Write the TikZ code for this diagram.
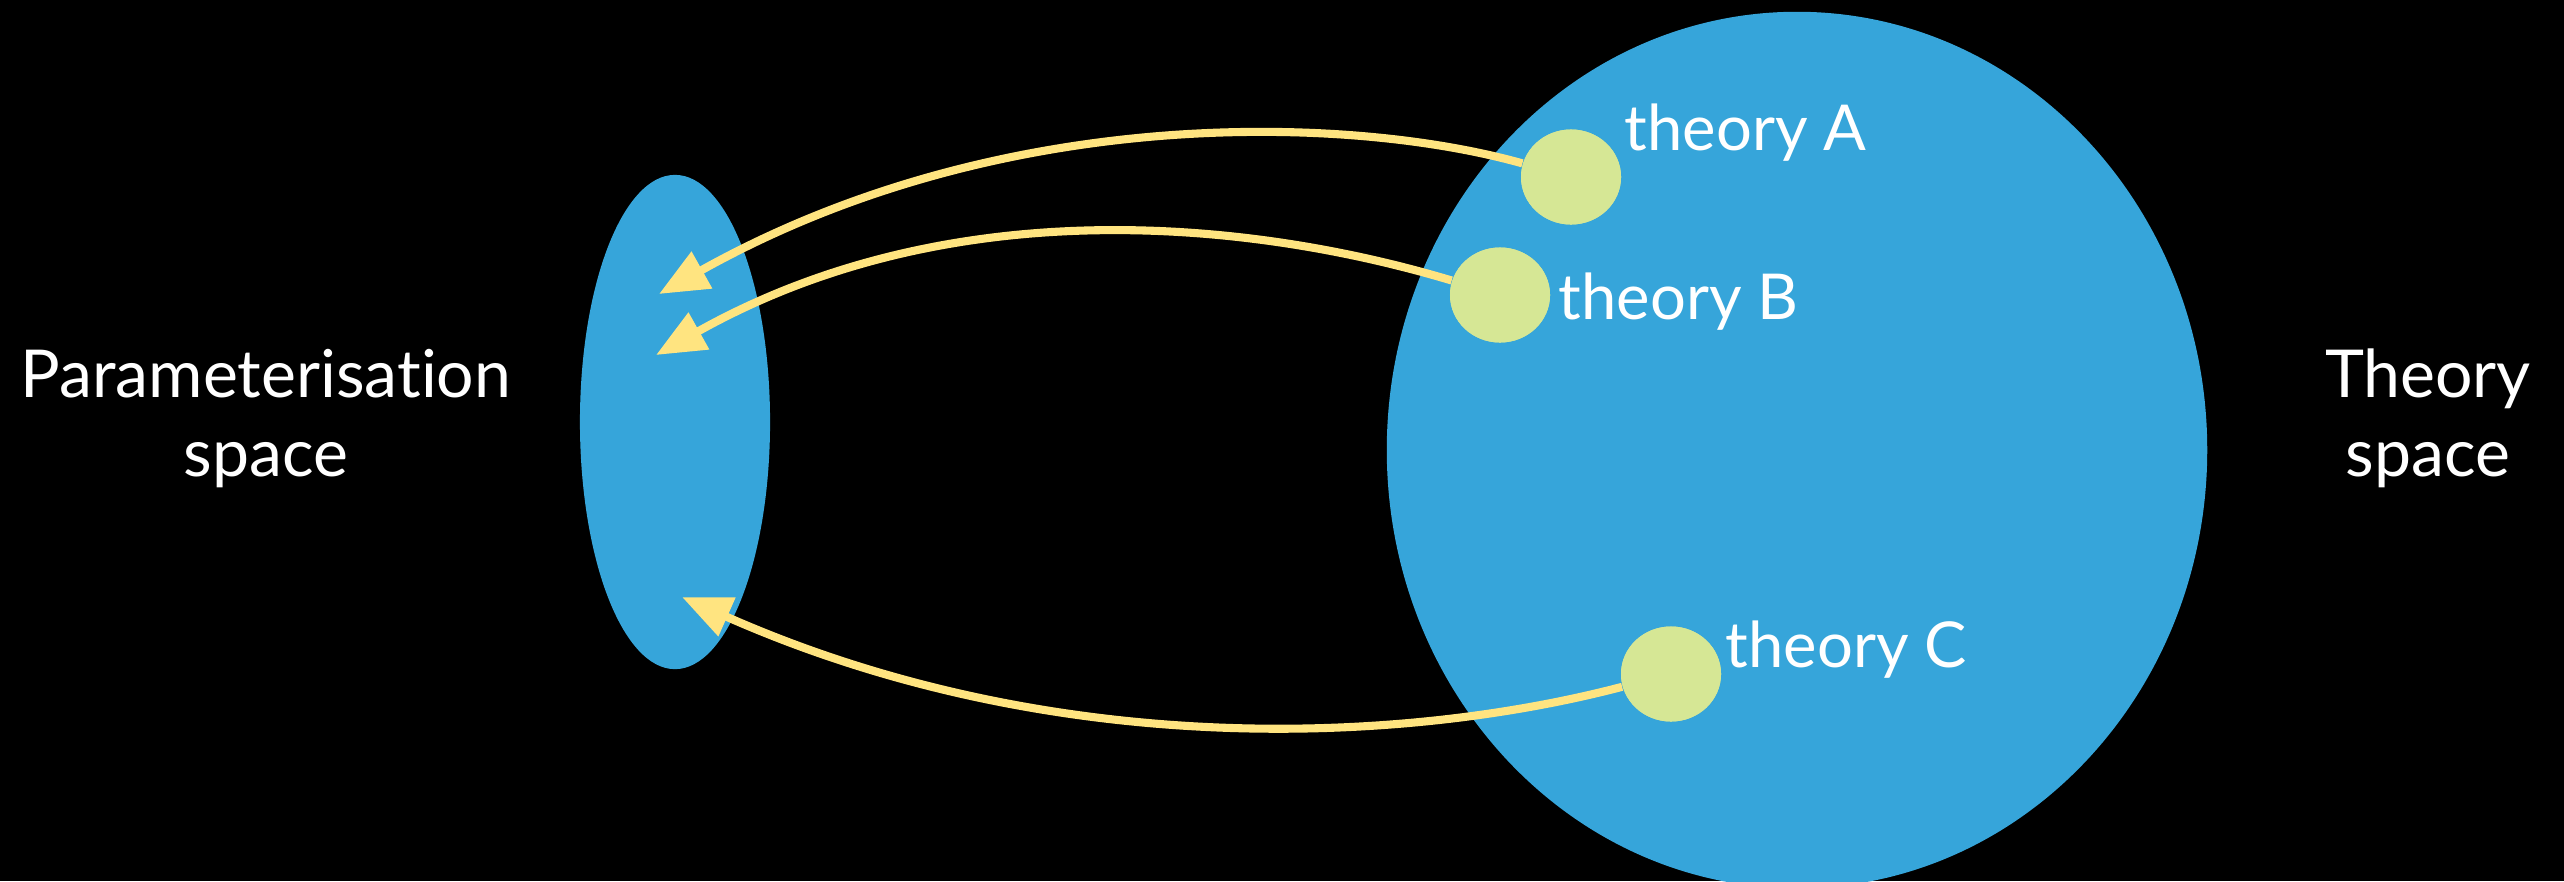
\documentclass[tikz,border=0pt]{standalone}
\usepackage{fontspec}
\setmainfont{Lato}[Ligatures={NoCommon}]
\usetikzlibrary{arrows.meta,shapes.geometric}
\definecolor{bg}{HTML}{000000}
\definecolor{spaceblue}{HTML}{36A5DA}
\definecolor{theorygreen}{HTML}{D6E795}
\definecolor{arrowyellow}{HTML}{FFE480}
\tikzset{
  spacefill/.style={draw=none, fill=spaceblue, ellipse, inner sep=0pt},
  theorydot/.style={draw=none, fill=theorygreen, ellipse, minimum width=1.0cm, minimum height=0.95cm, inner sep=0pt},
  maplink/.style={draw=arrowyellow, line width=2.3pt, -{Triangle[length=14pt,width=11.5pt]}},
  lbl/.style={text=white, font=\fontsize{18.8}{26}\selectfont, inner sep=0pt},
  smalllbl/.style={lbl, font=\fontsize{18}{26}\selectfont},
}
\begin{document}
\begin{tikzpicture}[x=0.01cm, y=-0.01cm]
\fill[bg] (0,0) rectangle (2564,881);
\useasboundingbox (0,0) rectangle (2564,881);
% spaces
\node[spacefill, minimum width=8.2cm, minimum height=8.76cm] (theoryspace) at (1797,450) {};
\node[spacefill, minimum width=1.9cm, minimum height=4.94cm] (paramspace) at (675,422) {};
% arrow tips
\coordinate (tipA) at (659,294);
\coordinate (tipB) at (656,355);
\coordinate (tipC) at (682,597);
% theory dots
\node[theorydot] (A) at (1571,177) {};
\node[theorydot] (B) at (1500,295) {};
\node[theorydot] (C) at (1671,674) {};
% links
\draw[maplink] (A) .. controls (1350,115) and (1000,103) .. (tipA);
\draw[maplink] (B) .. controls (1250,220) and (950,190) .. (tipB);
\draw[maplink] (C) .. controls (1400,745) and (1050,760) .. (tipC);
% redraw dots on top
\node[theorydot] at (A) {};
\node[theorydot] at (B) {};
\node[theorydot] at (C) {};
% labels
\node[smalllbl, anchor=base west] (labA) at (1624,150) {theory A};
\node[smalllbl, anchor=base west] (labB) at (1558,319) {theory B};
\node[smalllbl, anchor=base west] (labC) at (1725,667) {theory C};
\node[lbl, anchor=base] (param1) at (266,397) {Parameterisation};
\node[lbl, anchor=base] (param2) at (266,476) {space};
\node[lbl, anchor=base] (theo1) at (2428,397) {Theory};
\node[lbl, anchor=base] (theo2) at (2428,476) {space};
\end{tikzpicture}
\end{document}
